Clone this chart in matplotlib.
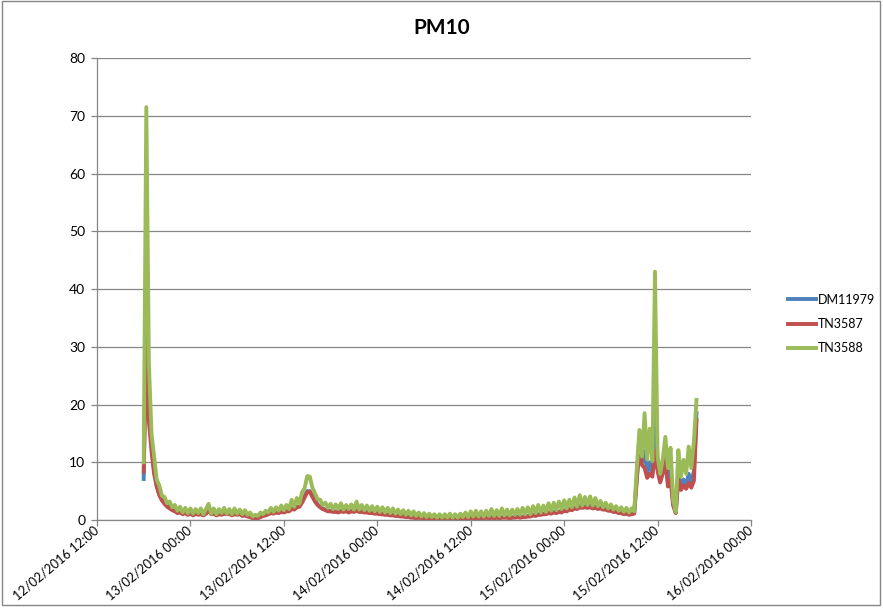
import matplotlib
matplotlib.use("Agg")
import matplotlib.pyplot as plt
import matplotlib.dates as mdates
import pandas as pd
from matplotlib.patches import Rectangle

plt.rcParams['font.family'] = ['Lato', 'DejaVu Sans']

# 20-minute readings from 12/02/2016 18:00
times = pd.date_range('2016-02-12 18:00', periods=214, freq='20min')

dm11979 = [7.1, 39.0, 20.0, 13.0, 8.5, 6.0, 4.5, 3.6, 3.0, 2.5,
           2.2, 1.8, 1.6, 1.3, 1.4, 1.1, 1.3, 1.0, 1.2, 0.9,
           1.2, 1.0, 1.1, 0.9, 1.2, 1.8, 1.1, 1.2, 0.9, 1.1,
           1.0, 1.2, 1.1, 1.2, 0.9, 1.1, 1.0, 1.1, 0.8, 0.9,
           0.7, 0.6, 0.4, 0.3, 0.4, 0.6, 0.8, 0.9, 1.1, 1.3,
           1.2, 1.4, 1.3, 1.5, 1.4, 1.6, 1.6, 2.0, 1.9, 2.3,
           2.4, 3.2, 4.1, 5.0, 5.0, 4.2, 3.4, 2.7, 2.3, 2.0,
           1.8, 1.6, 1.6, 1.5, 1.5, 1.4, 1.6, 1.5, 1.6, 1.4,
           1.6, 1.5, 1.7, 1.5, 1.5, 1.4, 1.4, 1.3, 1.3, 1.2,
           1.2, 1.1, 1.1, 1.0, 1.0, 0.9, 0.9, 0.8, 0.8, 0.7,
           0.7, 0.6, 0.6, 0.5, 0.5, 0.4, 0.5, 0.4, 0.4, 0.3,
           0.4, 0.3, 0.3, 0.3, 0.4, 0.3, 0.3, 0.3, 0.4, 0.3,
           0.3, 0.3, 0.4, 0.3, 0.4, 0.3, 0.4, 0.3, 0.4, 0.4,
           0.4, 0.4, 0.5, 0.4, 0.5, 0.4, 0.5, 0.4, 0.5, 0.5,
           0.5, 0.4, 0.5, 0.5, 0.6, 0.5, 0.6, 0.6, 0.7, 0.7,
           0.9, 0.8, 1.0, 1.0, 1.1, 1.1, 1.3, 1.2, 1.4, 1.3,
           1.5, 1.4, 1.7, 1.6, 1.9, 1.8, 2.1, 2.0, 2.4, 2.2,
           2.4, 2.3, 2.5, 2.2, 2.3, 2.1, 2.2, 1.9, 1.9, 1.7,
           1.7, 1.5, 1.5, 1.3, 1.3, 1.1, 1.2, 1.0, 1.1, 1.2,
           7.5, 13.5, 10.0, 12.0, 8.0, 10.0, 8.2, 25.0, 9.0, 6.8,
           8.5, 11.5, 6.5, 8.5, 2.8, 1.3, 8.0, 5.8, 7.0, 6.0,
           8.0, 6.5, 8.5, 18.5]

tn3587 = [8.4, 30.0, 17.0, 12.0, 8.0, 5.8, 4.3, 3.4, 2.8, 2.3,
          2.0, 1.7, 1.5, 1.2, 1.3, 1.0, 1.2, 0.9, 1.1, 0.8,
          1.1, 0.9, 1.0, 0.8, 1.1, 1.6, 1.0, 1.1, 0.8, 1.0,
          0.9, 1.1, 1.0, 1.1, 0.8, 1.0, 0.9, 1.0, 0.7, 0.8,
          0.6, 0.5, 0.3, 0.2, 0.3, 0.5, 0.7, 0.8, 1.0, 1.2,
          1.1, 1.3, 1.2, 1.4, 1.3, 1.5, 1.5, 1.9, 1.8, 2.2,
          2.3, 3.0, 3.9, 4.8, 4.9, 4.0, 3.2, 2.6, 2.2, 1.9,
          1.7, 1.5, 1.5, 1.4, 1.4, 1.3, 1.5, 1.4, 1.5, 1.3,
          1.5, 1.4, 1.6, 1.4, 1.4, 1.3, 1.3, 1.2, 1.2, 1.1,
          1.1, 1.0, 1.0, 0.9, 0.9, 0.8, 0.8, 0.7, 0.7, 0.6,
          0.6, 0.5, 0.5, 0.4, 0.4, 0.3, 0.4, 0.3, 0.3, 0.2,
          0.3, 0.2, 0.2, 0.2, 0.3, 0.2, 0.2, 0.2, 0.3, 0.2,
          0.2, 0.2, 0.3, 0.2, 0.3, 0.2, 0.3, 0.2, 0.3, 0.3,
          0.3, 0.3, 0.4, 0.3, 0.4, 0.3, 0.4, 0.3, 0.4, 0.4,
          0.4, 0.3, 0.4, 0.4, 0.5, 0.4, 0.5, 0.5, 0.6, 0.6,
          0.8, 0.7, 0.9, 0.9, 1.0, 1.0, 1.2, 1.1, 1.3, 1.2,
          1.4, 1.3, 1.6, 1.5, 1.8, 1.7, 2.0, 1.9, 2.2, 2.1,
          2.2, 2.1, 2.2, 2.0, 2.1, 1.9, 2.0, 1.8, 1.8, 1.6,
          1.6, 1.4, 1.4, 1.2, 1.2, 1.0, 1.1, 0.9, 1.0, 1.1,
          7.0, 12.7, 9.5, 9.0, 7.3, 8.0, 7.5, 12.0, 8.5, 6.5,
          8.0, 10.5, 5.8, 7.0, 2.5, 1.2, 7.0, 5.2, 6.0, 5.4,
          6.4, 5.6, 6.8, 17.3]

tn3588 = [10.0, 71.5, 27.0, 15.0, 11.0, 7.0, 6.0, 4.2, 4.0, 2.9,
          3.2, 2.2, 2.6, 1.6, 2.3, 1.3, 2.1, 1.2, 2.0, 1.1,
          1.9, 1.2, 2.0, 1.0, 1.9, 2.8, 1.1, 2.0, 1.0, 1.9,
          1.2, 2.1, 1.1, 1.9, 1.0, 2.0, 1.1, 1.8, 1.0, 1.7,
          0.9, 1.3, 0.6, 0.9, 0.7, 1.3, 1.0, 1.6, 1.3, 2.1,
          1.4, 2.2, 1.6, 2.5, 1.7, 2.6, 1.9, 3.5, 2.3, 3.8,
          2.8, 4.8, 5.5, 7.6, 7.5, 5.6, 4.6, 3.6, 3.5, 2.6,
          3.0, 2.1, 2.8, 1.9, 2.7, 1.9, 2.9, 1.8, 2.6, 1.9,
          2.7, 1.8, 3.2, 1.8, 2.6, 1.7, 2.5, 1.6, 2.4, 1.5,
          2.3, 1.4, 2.2, 1.3, 2.1, 1.2, 2.0, 1.1, 1.8, 1.0,
          1.7, 0.9, 1.6, 0.8, 1.5, 0.7, 1.3, 0.6, 1.2, 0.5,
          1.1, 0.5, 1.0, 0.4, 1.0, 0.4, 1.0, 0.4, 1.1, 0.4,
          1.0, 0.4, 1.1, 0.5, 1.3, 0.5, 1.5, 0.6, 1.6, 0.6,
          1.5, 0.6, 1.6, 0.7, 1.9, 0.7, 1.7, 0.7, 2.0, 0.8,
          1.8, 0.8, 1.8, 0.9, 1.9, 0.9, 2.1, 1.0, 2.2, 1.0,
          2.4, 1.2, 2.6, 1.3, 2.5, 1.4, 2.9, 1.6, 3.0, 1.7,
          3.2, 1.9, 3.4, 2.0, 3.5, 2.2, 3.9, 2.3, 4.3, 2.5,
          4.0, 2.6, 4.1, 2.5, 3.8, 2.4, 3.3, 2.2, 3.0, 2.0,
          2.7, 1.8, 2.4, 1.6, 2.2, 1.4, 2.1, 1.3, 2.0, 1.5,
          9.0, 15.6, 11.0, 18.5, 10.5, 15.8, 10.2, 43.0, 11.0, 8.0,
          10.5, 14.4, 9.0, 12.5, 3.5, 1.4, 12.1, 7.5, 10.4, 8.0,
          12.7, 9.0, 13.6, 20.8]

series = ['DM11979', 'TN3587', 'TN3588']
colors = ['#4F81BD', '#C0504D', '#9BBB59']
grey = '#868686'

fig = plt.figure(figsize=(8.83, 6.09), dpi=100)
ax = fig.add_axes([97/883, 89/609, 654/883, 462/609])

for name, vals, c in zip(series, [dm11979, tn3587, tn3588], colors):
    ax.plot(times, vals, color=c, lw=2.8, label=name, solid_joinstyle='round')

ax.set_ylim(0, 80)
ax.set_yticks(range(0, 81, 10))
ax.set_xlim(pd.Timestamp('2016-02-12 12:00'), pd.Timestamp('2016-02-16 00:00'))
ax.xaxis.set_major_locator(mdates.HourLocator(byhour=[0, 12]))
ax.xaxis.set_major_formatter(mdates.DateFormatter('%d/%m/%Y %H:%M'))

ax.grid(axis='y', color=grey, lw=0.9)
ax.set_axisbelow(True)
for s in ['top', 'right']:
    ax.spines[s].set_visible(False)
for s in ['left', 'bottom']:
    ax.spines[s].set_color(grey)
    ax.spines[s].set_linewidth(0.9)
ax.tick_params(axis='both', colors=grey, length=4.5, width=0.9, labelcolor='black', labelsize=10)
ax.tick_params(axis='y', pad=4)
ax.tick_params(axis='x', pad=2, labelsize=9.2)
for lab in ax.get_xticklabels():
    lab.set_rotation(40)
    lab.set_ha('right')
    lab.set_va('center')
    lab.set_rotation_mode('anchor')

fig.text(0.5, 1 - 28/609, 'PM10', ha='center', va='center', fontsize=15, fontweight='bold')

fig.legend(loc='center left', bbox_to_anchor=(782/883, 1 - 324/609), frameon=False,
           fontsize=9, handlelength=2.2, handletextpad=0.15, labelspacing=1.0, borderpad=0)

fig.patches.append(Rectangle((2/883, 4/609), 878/883, 604/609, transform=fig.transFigure,
                             fill=False, edgecolor=grey, lw=1))

fig.savefig('out.png', dpi=100)
